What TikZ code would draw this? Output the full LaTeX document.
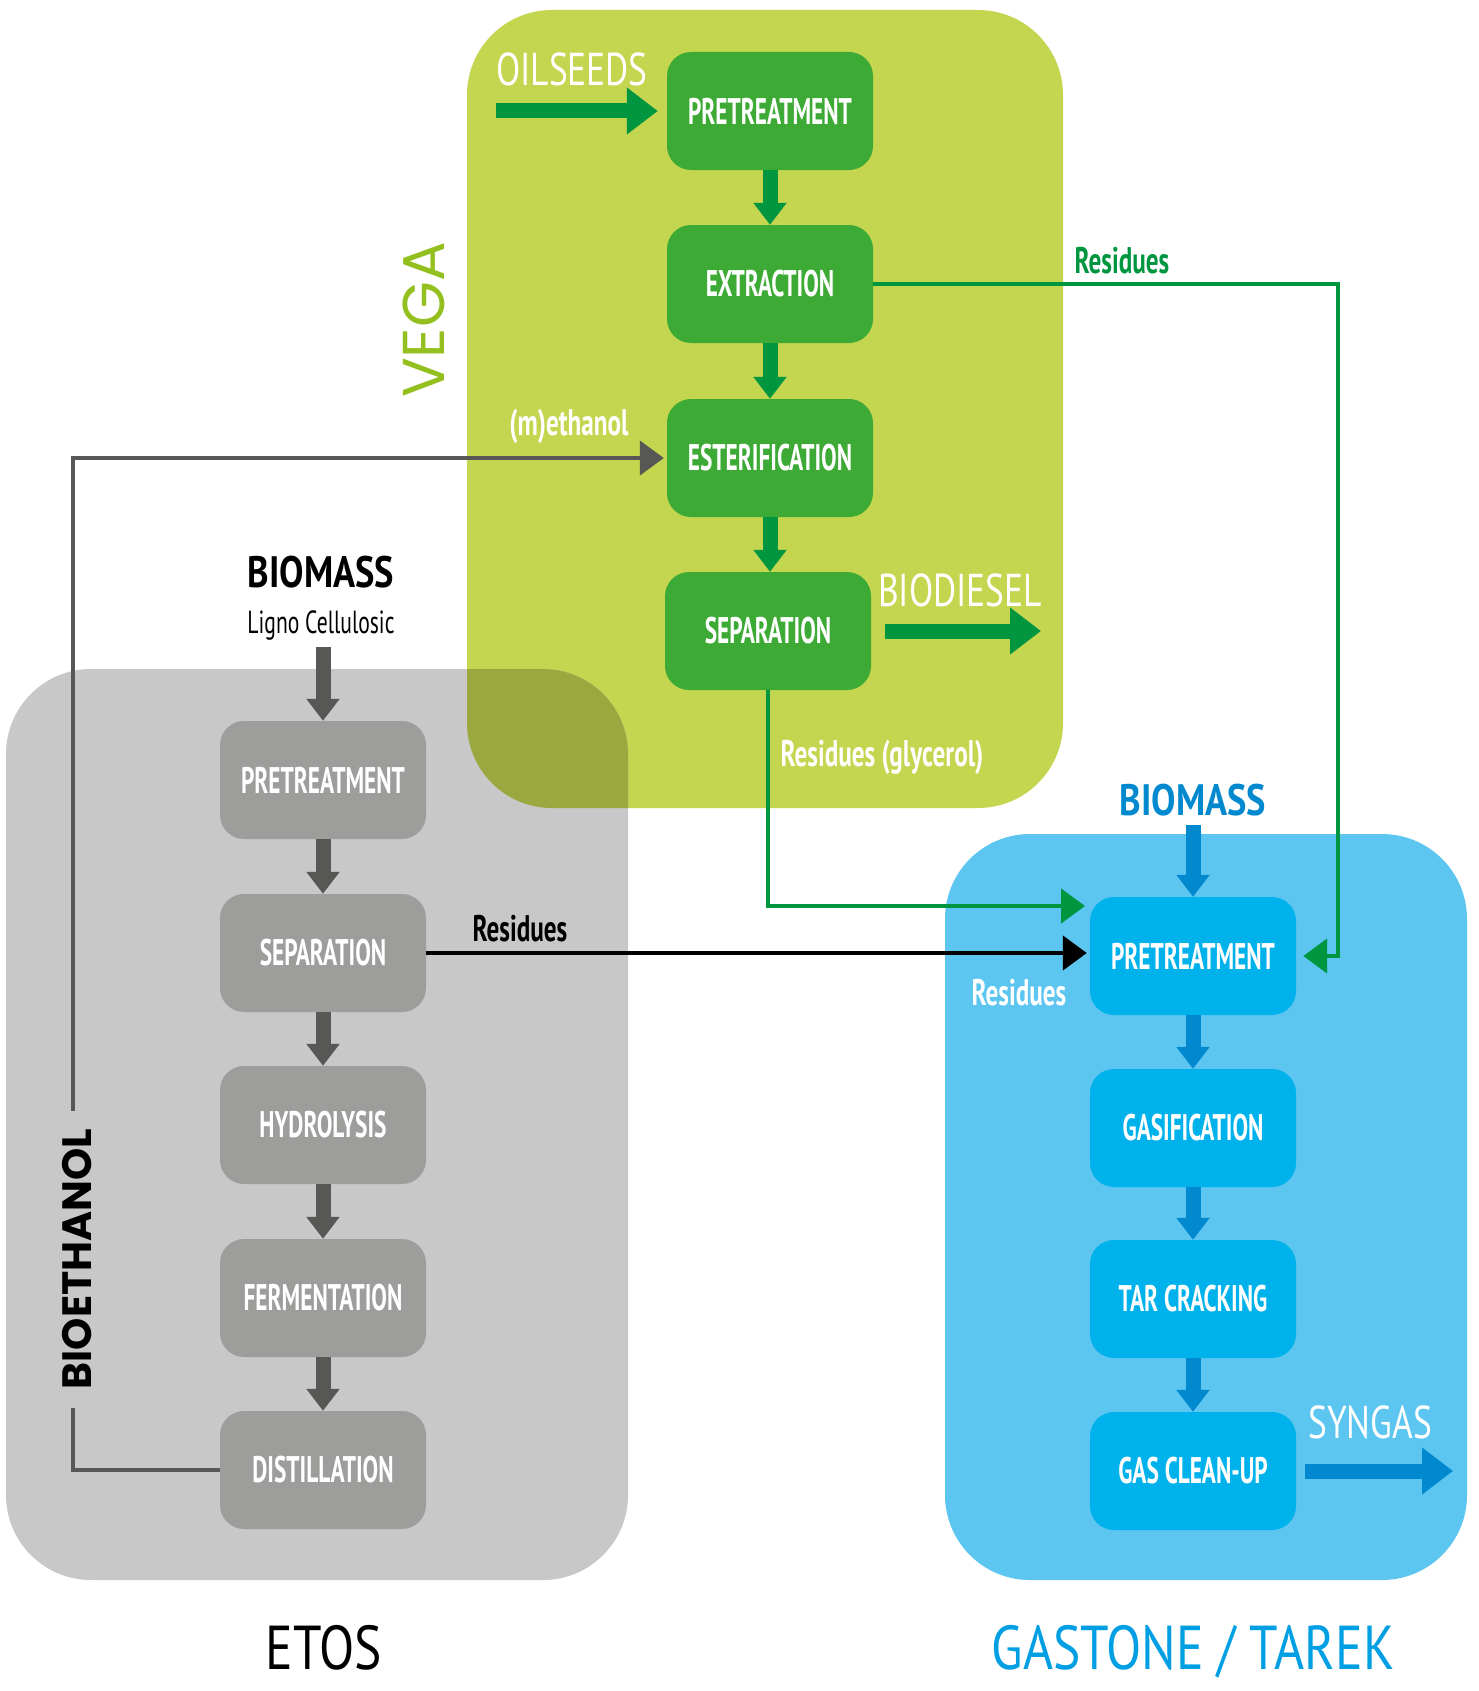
\documentclass[tikz,border=0pt]{standalone}
\usepackage{fontspec}
\usetikzlibrary{arrows.meta}
\newfontfamily\boxfont[FakeStretch=0.63]{PT Sans}
\newfontfamily\lowfont[FakeStretch=0.68]{PT Sans}
\newfontfamily\semifont[FakeStretch=0.83]{PT Sans}
\newfontfamily\regfont[FakeStretch=0.77]{PT Sans}
\newfontfamily\titlefont[FakeStretch=0.83]{PT Sans}
\newfontfamily\lignofont[FakeStretch=0.675]{PT Sans}
\newfontfamily\geofont{Poppins}
\definecolor{vegabg}{RGB}{196,214,80}
\definecolor{etosbg}{RGB}{200,200,200}
\definecolor{overlapbg}{RGB}{154,168,63}
\definecolor{gastbg}{RGB}{92,197,240}
\definecolor{greenbox}{RGB}{61,170,53}
\definecolor{greenarrow}{RGB}{0,150,64}
\definecolor{graybox}{RGB}{157,157,156}
\definecolor{grayarrow}{RGB}{87,87,86}
\definecolor{bluebox}{RGB}{0,178,235}
\definecolor{bluearrow}{RGB}{0,137,207}
\definecolor{gasttext}{RGB}{0,159,227}
\definecolor{vegatext}{RGB}{147,192,31}
\begin{document}
\begin{tikzpicture}[x=1pt,y=-1pt,
  proc/.style={rectangle, rounded corners=24pt, minimum width=206pt, minimum height=118pt,
    inner sep=0pt, text=white, font=\boxfont\bfseries\fontsize{37}{40}\selectfont},
  gproc/.style={proc, fill=greenbox},
  eproc/.style={proc, fill=graybox},
  bproc/.style={proc, fill=bluebox},
  lbl/.style={inner sep=0pt, font=\lowfont\bfseries\fontsize{37}{40}\selectfont},
  biglbl/.style={inner sep=0pt, font=\regfont\fontsize{46}{50}\selectfont},
  titlelbl/.style={inner sep=0pt, anchor=base, text depth=0pt, font=\titlefont\fontsize{62}{66}\selectfont},
  flow/.style={line width=15pt, -{Triangle[width=32pt,length=22pt]}},
  bigflow/.style={line width=15pt, -{Triangle[width=45pt,length=31pt]}},
  thin/.style={line width=4.5pt, -{Triangle[width=34pt,length=24pt]}},
  thinline/.style={line width=4.5pt}
]
\useasboundingbox (0,0) rectangle (1479,1691);
\fill[white] (0,0) rectangle (1479,1691);
% panels
\fill[vegabg, rounded corners=85pt] (467,10) rectangle (1063,808);
\fill[etosbg, rounded corners=85pt] (6,669) rectangle (628,1580);
\begin{scope}
  \clip[rounded corners=85pt] (467,10) rectangle (1063,808);
  \fill[overlapbg, rounded corners=85pt] (6,669) rectangle (628,1580);
\end{scope}
\fill[gastbg, rounded corners=85pt] (945,834) rectangle (1467,1580);

% VEGA boxes
\node[gproc] (gpre) at (770,111) {PRETREATMENT};
\node[gproc] (gext) at (770,284) {EXTRACTION};
\node[gproc] (gest) at (770,458) {ESTERIFICATION};
\node[gproc] (gsep) at (768,631) {SEPARATION};
% ETOS boxes
\node[eproc] (epre) at (323,780) {PRETREATMENT};
\node[eproc] (esep) at (323,953) {SEPARATION};
\node[eproc] (ehyd) at (323,1125) {HYDROLYSIS};
\node[eproc] (efer) at (323,1298) {FERMENTATION};
\node[eproc] (edis) at (323,1470) {DISTILLATION};
% GASTONE boxes
\node[bproc] (bpre) at (1193,956) {PRETREATMENT};
\node[bproc] (bgas) at (1193,1128) {GASIFICATION};
\node[bproc] (btar) at (1193,1299) {TAR CRACKING};
\node[bproc] (bcln) at (1193,1471) {GAS CLEAN-UP};

% vertical flows
\draw[flow, greenarrow] (gpre.south) -- (gext.north);
\draw[flow, greenarrow] (gext.south) -- (gest.north);
\draw[flow, greenarrow] (gest.south) -- (gest.south |- gsep.north);
\draw[flow, grayarrow] (epre.south) -- (esep.north);
\draw[flow, grayarrow] (esep.south) -- (ehyd.north);
\draw[flow, grayarrow] (ehyd.south) -- (efer.north);
\draw[flow, grayarrow] (efer.south) -- (edis.north);
\draw[flow, bluearrow] (bpre.south) -- (bgas.north);
\draw[flow, bluearrow] (bgas.south) -- (btar.north);
\draw[flow, bluearrow] (btar.south) -- (bcln.north);

% labels
\node[biglbl, text=white] (oil) at (572,69) {OILSEEDS};
\node[inner sep=0pt, text=vegatext, rotate=90, font=\geofont\fontsize{59}{63}\selectfont] (vega) at (424,320) {VEGA};
\node[lbl, text=greenarrow] (resg) at (1122,261) {Residues};
\node[lbl, text=white] (meth) at (569,426) {(m)ethanol};
\node[lbl, text=white] (resgly) at (882,757) {Residues (glycerol)};
\node[lbl, text=black] (resk) at (520,929) {Residues};
\node[lbl, text=white] (resw) at (1019,993) {Residues};
\node[inner sep=0pt, font=\semifont\bfseries\fontsize{44}{48}\selectfont] (biom) at (321,572) {BIOMASS};
\node[inner sep=0pt, font=\lignofont\fontsize{32}{36}\selectfont] (ligno) at (321,625) {Ligno Cellulosic};
\node[biglbl, text=white] (bdl) at (960,590) {BIODIESEL};
\node[inner sep=0pt, text=bluearrow, font=\semifont\bfseries\fontsize{44}{48}\selectfont] (biomb) at (1193,800) {BIOMASS};
\node[biglbl, text=white] (syn) at (1370,1422) {SYNGAS};
\node[titlelbl] (etos) at (324,1669) {ETOS};
\node[titlelbl, text=gasttext] (gast) at (1193,1669) {GASTONE / TAREK};
\node[inner sep=0pt, rotate=90, font=\geofont\bfseries\fontsize{41}{45}\selectfont] (bioeth) at (77,1259) {BIOETHANOL};

% coordinates
\coordinate (oilstart) at (496,111);
\coordinate (bdend) at (1041,631);
\coordinate (synend) at (1453,1471);
\coordinate (ligstart) at (323,647);
\coordinate (bbstart) at (1193,825);
\coordinate (rc) at (1338,956);
\coordinate (gtip) at (1085,906);
\coordinate (bioA) at (73,1111);
\coordinate (bioB) at (73,1408);

% big arrows
\draw[bigflow, greenarrow, shorten >=9pt] (oilstart) -- (gpre.west);
\draw[bigflow, greenarrow, shorten <=14pt] (gsep.east) -- (bdend);
\draw[bigflow, bluearrow, shorten <=9pt] (bcln.east) -- (synend);
\draw[flow, grayarrow] (ligstart) -- (epre.north);
\draw[flow, bluearrow] (bbstart) -- (bpre.north);

% residue connectors
\draw[thin, greenarrow, shorten >=7pt] (gext.east) -| (rc) -- (bpre.east);
\draw[thin, greenarrow] (gsep.south) |- (gtip);
\draw[thin, black, shorten >=3pt] (esep.east) -- (esep.east -| bpre.west);
% bioethanol loop
\draw[thinline, grayarrow] (edis.west) -| (bioB);
\draw[thin, grayarrow, shorten >=3pt] (bioA) |- (gest.west);
\end{tikzpicture}
\end{document}
